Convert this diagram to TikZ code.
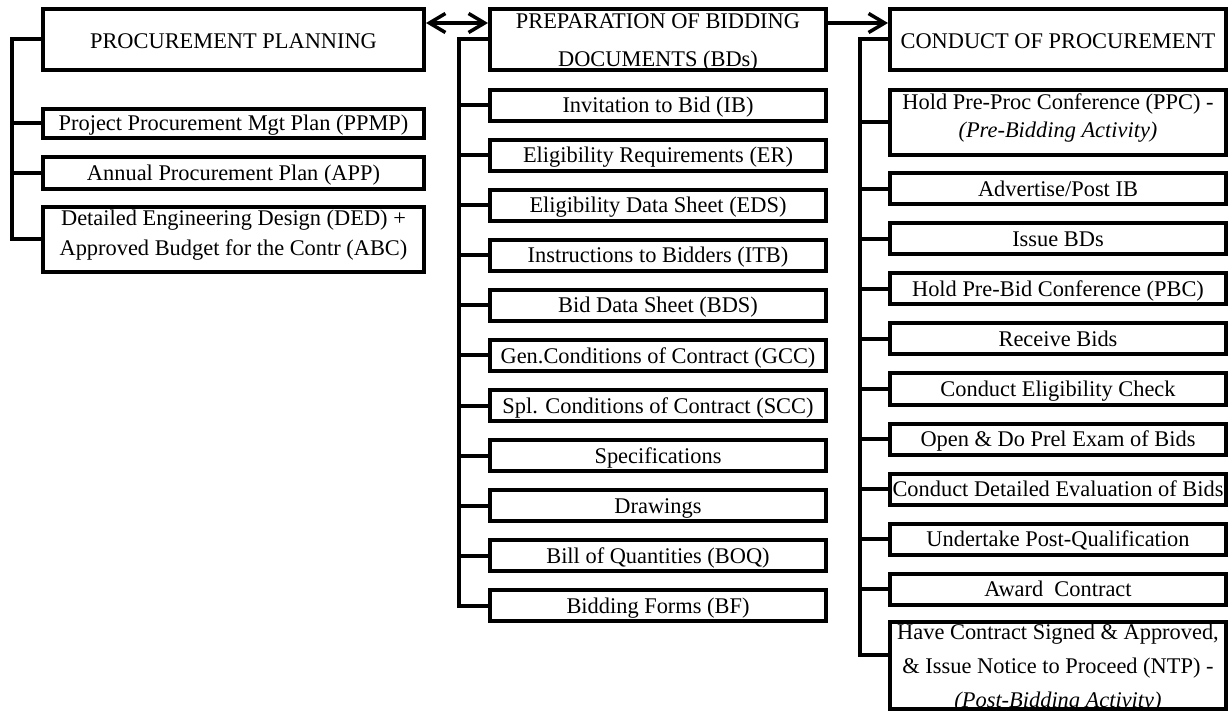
\documentclass[tikz,border=0pt]{standalone}
\usepackage{fontspec}
\setmainfont{Liberation Serif}
\usetikzlibrary{arrows.meta}
\newcommand\fsz{\fontsize{22.4}{28}\selectfont}
\begin{document}
\begin{tikzpicture}[x=1pt,y=-1pt,
  box/.style={draw, line width=4pt, inner sep=0pt, align=center, font=\fsz},
  lcol/.style={box, minimum width=381pt},
  mcol/.style={box, minimum width=336pt},
  head/.style={minimum height=61pt, text height=18pt, text depth=0pt},
  row/.style={minimum height=31pt, text height=15pt, text depth=0pt},
  lbl/.style={align=center, inner sep=0pt},
  conn/.style={line width=4pt, line join=miter, line cap=rect},
  arr/.style={line width=3.5pt, arrows={-Straight Barb[length=16pt,width=19pt]}},
  darr/.style={line width=3.5pt, arrows={Straight Barb[length=16pt,width=19pt]-Straight Barb[length=16pt,width=19pt]}}
]
\useasboundingbox (0,0) rectangle (1232,711);

% left column
\node[lcol, head] (pp) at (233.5,39.5) {PROCUREMENT PLANNING};
\node[lcol, minimum height=29pt, text height=15pt, text depth=0pt] (ppmp) at (233.5,123.5) {Project Procurement Mgt Plan (PPMP)};
\node[lcol, minimum height=32pt, text height=15pt, text depth=0pt] (app) at (233.5,173) {Annual Procurement Plan (APP)};
\node[lcol, minimum height=65pt, label={[lbl, yshift=4.7pt, font=\fontsize{22.4}{30}\selectfont]center:{Detailed Engineering Design (DED) +\\Approved Budget for the Contr (ABC)}}] (ded) at (233.5,239.5) {};

% middle column
\node[mcol, minimum height=61pt, label={[lbl, yshift=-2.5pt, font=\fontsize{22.4}{38}\selectfont]center:{PREPARATION OF BIDDING\\DOCUMENTS (BDs)}}] (bd) at (658,39.5) {};
\node[mcol, row] (ib)   at (658,105.5) {Invitation to Bid (IB)};
\node[mcol, row] (er)   at (658,155.5) {Eligibility Requirements (ER)};
\node[mcol, row] (eds)  at (658,205.5) {Eligibility Data Sheet (EDS)};
\node[mcol, row] (itb)  at (658,255.5) {Instructions to Bidders (ITB)};
\node[mcol, row] (bds)  at (658,305.5) {Bid Data Sheet (BDS)};
\node[mcol, row] (gcc)  at (658,355.5) {Gen.Conditions of Contract (GCC)};
\node[mcol, row] (scc)  at (658,405.5) {Spl. Conditions of Contract (SCC)};
\node[mcol, row] (spec) at (658,455.5) {Specifications};
\node[mcol, row] (drw)  at (658,505.5) {Drawings};
\node[mcol, row] (boq)  at (658,555.5) {Bill of Quantities (BOQ)};
\node[mcol, row] (bf)   at (658,605.5) {Bidding Forms (BF)};

% right column
\node[mcol, head] (cp) at (1058,39.5) {CONDUCT OF PROCUREMENT};
\node[mcol, minimum height=65pt, label={[lbl, yshift=4.7pt, font=\fontsize{22.4}{28}\selectfont]center:{Hold Pre-Proc Conference (PPC) -\\\textit{(Pre-Bidding Activity)}}}] (ppc) at (1058,122.5) {};
\node[mcol, row] (adv)  at (1058,189) {Advertise/Post IB};
\node[mcol, row] (iss)  at (1058,239) {Issue BDs};
\node[mcol, row] (pbc)  at (1058,289) {Hold Pre-Bid Conference (PBC)};
\node[mcol, row] (rcv)  at (1058,339) {Receive Bids};
\node[mcol, row] (elig) at (1058,389) {Conduct Eligibility Check};
\node[mcol, row] (open) at (1058,439) {Open \& Do Prel Exam of Bids};
\node[mcol, row] (cde)  at (1058,489) {Conduct Detailed Evaluation of Bids};
\node[mcol, row] (pq)   at (1058,539) {Undertake Post-Qualification};
\node[mcol, row] (awd)  at (1058,589) {Award\ \ Contract};
\node[mcol, minimum height=87pt, label={[lbl, yshift=-2.3pt, font=\fontsize{22.4}{34}\selectfont]center:{Have Contract Signed \& Approved,\\\& Issue Notice to Proceed (NTP) -\\\textit{(Post-Bidding Activity)}}}] (have) at (1058,665.5) {};

% spines
\coordinate (ls) at (12,0);
\coordinate (ms) at (459,0);
\coordinate (rs) at (860,0);

\draw[conn] (pp.west) -| (ls |- ded.west) -- (ded.west);
\foreach \n in {ppmp,app} \draw[conn] (\n.west) -- (\n.west -| ls);

\draw[conn] (bd.west) -| (ms |- bf.west) -- (bf.west);
\foreach \n in {ib,er,eds,itb,bds,gcc,scc,spec,drw,boq} \draw[conn] (\n.west) -- (\n.west -| ms);

\coordinate (haveb) at ([yshift=10.5pt]have.west);
\draw[conn] (cp.west) -| (rs |- haveb) -- (haveb);
\foreach \n in {ppc,adv,iss,pbc,rcv,elig,open,cde,pq,awd} \draw[conn] (\n.west) -- (\n.west -| rs);

% arrows between phases
\draw[darr] ([yshift=16.5pt]pp.east) -- ([yshift=16.5pt]bd.west);
\draw[arr] ([yshift=16.5pt]bd.east) -- ([yshift=16.5pt]cp.west);
\end{tikzpicture}
\end{document}
